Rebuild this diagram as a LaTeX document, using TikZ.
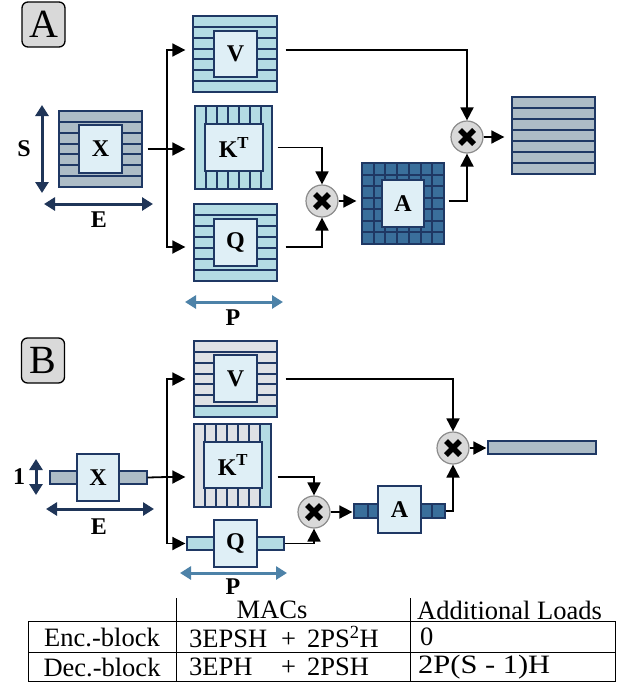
\documentclass[tikz,border=0pt]{standalone}
\usepackage{fontspec}
\usepackage{graphicx}
\setmainfont{Liberation Serif}
\usetikzlibrary{arrows.meta,fit}
\definecolor{navy}{HTML}{1F3864}
\definecolor{dimnavy}{HTML}{1F3558}
\definecolor{xgray}{HTML}{ADBCC6}
\definecolor{lblue}{HTML}{B4DCE4}
\definecolor{innerfill}{HTML}{DFEFF6}
\definecolor{dblue}{HTML}{3A6F9B}
\definecolor{lgray}{HTML}{DEE1E5}
\definecolor{circfill}{HTML}{D9D9D9}
\definecolor{circline}{HTML}{8C8C8C}
\definecolor{pblue}{HTML}{4D82A8}

\newcommand\lblfont{\bfseries\fontsize{24}{24}\selectfont}
\newcommand\tabfont{\fontsize{26.5}{26.5}\selectfont}

\tikzset{
 frame/.style={draw=navy, line width=1.3pt, inner sep=0pt},
 stripe/.style={draw=navy, line width=1.3pt},
 inbox/.style={draw=navy, line width=1.5pt, fill=innerfill, inner sep=0pt, font=\lblfont},
 conn/.style={draw=black, line width=1.8pt, -{Triangle[length=13pt,width=13pt]}},
 wire/.style={draw=black, line width=1.8pt},
 dim/.style={line width=3pt, {Triangle[length=11pt,width=13pt]}-{Triangle[length=11pt,width=13pt]}},
 mult/.style={circle, draw=circline, fill=circfill, line width=1.2pt, minimum size=32pt, inner sep=0pt},
 xmark/.style={line width=5.5pt, black},
 tag/.style={draw=black, fill=circfill, rounded corners=6pt, line width=1.3pt, minimum width=43pt, minimum height=45pt, inner sep=0pt, font=\fontsize{40}{40}\selectfont},
 dimlbl/.style={font=\lblfont, inner sep=0pt},
 tabtxt/.style={font=\tabfont, inner sep=0pt},
 tabline/.style={draw=black, line width=0.9pt},
}

% block frame node: name x0 y0 x1 y1
\newcommand\blkframe[5]{\node[frame, fit={(#2,#3) (#4,#5)}] (#1) {};}

\begin{document}
\begin{tikzpicture}[x=1pt,y=-1pt]
\useasboundingbox (0,0) rectangle (628,683);

% ================= Panel A =================
\node[tag] (LA) at (43.5,24.5) {A};

% X
\fill[xgray] (59,111) rectangle (142,187);
\draw[stripe] (59,122) -- (142,122);
\draw[stripe] (59,133) -- (142,133);
\draw[stripe] (59,144) -- (142,144);
\draw[stripe] (59,154) -- (142,154);
\draw[stripe] (59,165) -- (142,165);
\draw[stripe] (59,176) -- (142,176);
\blkframe{XoA}{59}{111}{142}{187}
\node[inbox, minimum width=43pt, minimum height=48pt] (XA) at (100.5,149) {X};

% V
\fill[lblue] (193,16) rectangle (277,92);
\draw[stripe] (193,27) -- (277,27);
\draw[stripe] (193,38) -- (277,38);
\draw[stripe] (193,49) -- (277,49);
\draw[stripe] (193,59) -- (277,59);
\draw[stripe] (193,70) -- (277,70);
\draw[stripe] (193,81) -- (277,81);
\blkframe{VoA}{193}{16}{277}{92}
\node[inbox, minimum width=43pt, minimum height=46pt] (VA) at (235.5,54) {V};

% K^T
\fill[lblue] (195,106) rectangle (272,189);
\draw[stripe] (206,106) -- (206,189);
\draw[stripe] (217,106) -- (217,189);
\draw[stripe] (228,106) -- (228,189);
\draw[stripe] (239,106) -- (239,189);
\draw[stripe] (250,106) -- (250,189);
\draw[stripe] (261,106) -- (261,189);
\blkframe{KoA}{195}{106}{272}{189}
\node[inbox, minimum width=58pt, minimum height=47pt] (KA) at (234,147.5) {K\textsuperscript{T}};

% Q
\fill[lblue] (194,204) rectangle (277,281);
\draw[stripe] (194,215) -- (277,215);
\draw[stripe] (194,226) -- (277,226);
\draw[stripe] (194,237) -- (277,237);
\draw[stripe] (194,248) -- (277,248);
\draw[stripe] (194,259) -- (277,259);
\draw[stripe] (194,270) -- (277,270);
\blkframe{QoA}{194}{204}{277}{281}
\node[inbox, minimum width=43pt, minimum height=47pt] (QA) at (235.5,242.5) {Q};

% A (grid)
\fill[dblue] (362,163) rectangle (444,244);
\draw[stripe] (374,163) -- (374,244);
\draw[stripe] (385,163) -- (385,244);
\draw[stripe] (397,163) -- (397,244);
\draw[stripe] (409,163) -- (409,244);
\draw[stripe] (421,163) -- (421,244);
\draw[stripe] (432,163) -- (432,244);
\draw[stripe] (362,175) -- (444,175);
\draw[stripe] (362,186) -- (444,186);
\draw[stripe] (362,198) -- (444,198);
\draw[stripe] (362,209) -- (444,209);
\draw[stripe] (362,221) -- (444,221);
\draw[stripe] (362,232) -- (444,232);
\blkframe{AoA}{362}{163}{444}{244}
\node[inbox, minimum width=42pt, minimum height=47pt] (AA) at (403,203.5) {A};

% output
\fill[xgray] (512,97) rectangle (595,174);
\draw[stripe] (512,108) -- (595,108);
\draw[stripe] (512,119) -- (595,119);
\draw[stripe] (512,130) -- (595,130);
\draw[stripe] (512,141) -- (595,141);
\draw[stripe] (512,152) -- (595,152);
\draw[stripe] (512,163) -- (595,163);
\blkframe{OutA}{512}{97}{595}{174}

\node[mult] (mA1) at (322,201) {};
\draw[xmark] (mA1.center) +(-7,-7) -- +(7,7);
\draw[xmark] (mA1.center) +(-7,7) -- +(7,-7);
\node[mult] (mA2) at (467,137) {};
\draw[xmark] (mA2.center) +(-7,-7) -- +(7,7);
\draw[xmark] (mA2.center) +(-7,7) -- +(7,-7);

\coordinate (spA) at (167,149);
\draw[wire, shorten <=5pt] (XoA.east) -- (spA);
\draw[conn, shorten >=7pt] (spA) |- ([yshift=4pt]VoA.west);
\draw[conn, shorten >=9pt] (spA) -- (spA -| KoA.west);
\draw[conn, shorten >=8pt] (spA) |- ([yshift=-4.5pt]QoA.west);

\draw[conn, shorten <=5pt] (KoA.east) -| (mA1.north);
\draw[conn, shorten <=8pt] ([yshift=-4.5pt]QoA.east) -| (mA1.south);
\draw[conn, shorten >=5pt] (mA1.east) -- (mA1.east -| AoA.west);
\draw[conn, shorten <=4pt] ([yshift=2.5pt]AoA.east) -| (mA2.south);
\draw[conn, shorten <=8pt] ([yshift=4pt]VoA.east) -| (mA2.north);
\draw[conn, shorten >=7pt] (mA2.east) -- (mA2.east -| OutA.west);

\coordinate (sA1) at (42,105); \coordinate (sA2) at (42,193);
\draw[dim, dimnavy] (sA1) -- (sA2);
\node[dimlbl] (SA) at (24,149) {S};
\coordinate (eA1) at (44,204); \coordinate (eA2) at (153,204);
\draw[dim, dimnavy] (eA1) -- (eA2);
\node[dimlbl] (EA) at (99,220) {E};
\coordinate (pA1) at (185,302); \coordinate (pA2) at (283,302);
\draw[dim, pblue] (pA1) -- (pA2);
\node[dimlbl] (PA) at (233,318) {P};

% ================= Panel B =================
\node[tag] (LB) at (43,360.5) {B};

\fill[xgray] (50,471) rectangle (147,484); \blkframe{XoB}{50}{471}{147}{484}
\node[inbox, minimum width=42pt, minimum height=47pt] (XB) at (98,477.5) {X};

% V (gray rows, last row new)
\fill[lgray] (194,341) rectangle (277,417);
\fill[lblue] (194,406) rectangle (277,417);
\draw[stripe] (194,352) -- (277,352);
\draw[stripe] (194,363) -- (277,363);
\draw[stripe] (194,374) -- (277,374);
\draw[stripe] (194,384) -- (277,384);
\draw[stripe] (194,395) -- (277,395);
\draw[stripe] (194,406) -- (277,406);
\blkframe{VoB}{194}{341}{277}{417}
\node[inbox, minimum width=43pt, minimum height=47pt] (VB) at (235.5,378.5) {V};

% K^T (gray columns, last column new)
\fill[lgray] (194,424) rectangle (271,507);
\fill[lblue] (260,424) rectangle (271,507);
\draw[stripe] (205,424) -- (205,507);
\draw[stripe] (216,424) -- (216,507);
\draw[stripe] (227,424) -- (227,507);
\draw[stripe] (238,424) -- (238,507);
\draw[stripe] (249,424) -- (249,507);
\draw[stripe] (260,424) -- (260,507);
\blkframe{KoB}{194}{424}{271}{507}
\node[inbox, minimum width=58pt, minimum height=46pt] (KB) at (233,465) {K\textsuperscript{T}};

\fill[lblue] (187,537) rectangle (284,550); \blkframe{QoB}{187}{537}{284}{550}
\node[inbox, minimum width=43pt, minimum height=47pt] (QB) at (235.5,543.5) {Q};

\fill[dblue] (354,504) rectangle (445,518);
\draw[stripe] (368,504) -- (368,518);
\draw[stripe] (432,504) -- (432,518);
\blkframe{AoB}{354}{504}{445}{518}
\node[inbox, minimum width=43pt, minimum height=47pt] (AB) at (399.5,509.5) {A};

\fill[xgray] (488,441) rectangle (596,454); \blkframe{OutB}{488}{441}{596}{454}

\node[mult] (mB1) at (314,512) {};
\draw[xmark] (mB1.center) +(-7,-7) -- +(7,7);
\draw[xmark] (mB1.center) +(-7,7) -- +(7,-7);
\node[mult] (mB2) at (453,448) {};
\draw[xmark] (mB2.center) +(-7,-7) -- +(7,7);
\draw[xmark] (mB2.center) +(-7,7) -- +(7,-7);

\coordinate (spB) at (167,477);
\draw[wire] (XoB.east) -- (spB);
\draw[conn, shorten >=8pt] (spB) |- (VoB.west);
\draw[conn, shorten >=8pt] (spB) -- (spB -| KoB.west);
\draw[conn, shorten >=1pt] (spB) |- (QoB.west);

\draw[conn, shorten <=6pt] (KoB.east |- spB) -| (mB1.north);
\draw[conn] (QoB.east) -| (mB1.south);
\draw[conn, shorten >=1pt] (mB1.east) -- (mB1.east -| AoB.west);
\draw[conn] (AoB.east) -| (mB2.south);
\draw[conn, shorten <=8pt] (VoB.east) -| (mB2.north);
\draw[conn, shorten >=1pt] (mB2.east) -- (mB2.east -| OutB.west);

\coordinate (oB1) at (36,459); \coordinate (oB2) at (36,495);
\draw[dim, dimnavy] (oB1) -- (oB2);
\node[dimlbl] (OneB) at (19,477) {1};
\coordinate (eB1) at (46,509); \coordinate (eB2) at (154,509);
\draw[dim, dimnavy] (eB1) -- (eB2);
\node[dimlbl] (EB) at (99,527) {E};
\coordinate (pB1) at (180,573); \coordinate (pB2) at (287,573);
\draw[dim, pblue] (pB1) -- (pB2);
\node[dimlbl] (PB) at (233,587) {P};

% ================= Table =================
\draw[tabline] (176,598) -- (176,681);
\draw[tabline] (410,598) -- (410,681);
\draw[tabline] (28,621) rectangle (615,681);
\draw[tabline] (28,652) -- (615,652);
\node[tabtxt] (hM) at (272,610) {MACs};
\node[tabtxt, anchor=west] (hL) at (417,610) {Additional Loads};
\node[tabtxt] (r1) at (102,637) {Enc.-block};
\node[tabtxt] (r2) at (102,667) {Dec.-block};
\node[tabtxt, anchor=west] (m1) at (189,637) {\makebox[92pt][l]{3EPSH}+\ \,2PS\textsuperscript{2}H};
\node[tabtxt, anchor=west] (m2) at (189,667) {\makebox[92pt][l]{3EPH}+\ \,2PSH};
\node[tabtxt, anchor=west] (l1) at (420,637) {0};
\node[tabtxt, anchor=west] (l2) at (418,667) {\scalebox{1.15}[1]{2P(S\ -\ 1)H}};
\end{tikzpicture}
\end{document}
